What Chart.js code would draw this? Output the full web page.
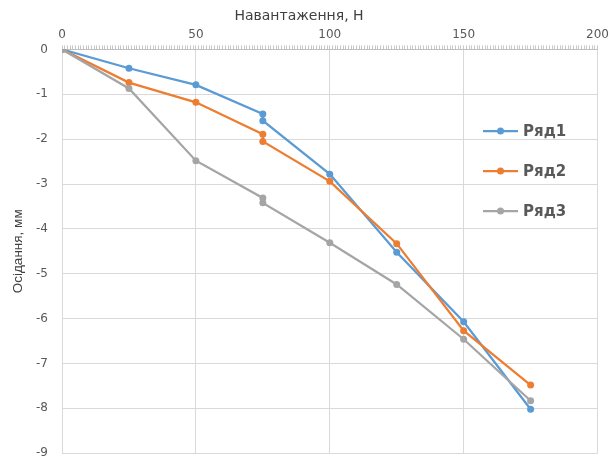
<!DOCTYPE html>
<html lang="uk">
<head>
    <meta charset="UTF-8">
    <title>Осідання</title>
    <style>
        html, body { margin: 0; padding: 0; background: #fff; }
        #wrap { width: 612px; height: 458px; }
    </style>
</head>
<body>
    <div id="wrap"><canvas id="chart" width="612" height="458"></canvas></div>

    <script src="https://cdn.jsdelivr.net/npm/chart.js"></script>
    <script>
        // дані з графіка
        const loads = [0, 25, 50, 75, 75, 100, 125, 150, 175];
        const ryad1 = [0, -0.42, -0.79, -1.44, -1.59, -2.78, -4.52, -6.07, -8.02];
        const ryad2 = [0, -0.74, -1.18, -1.89, -2.05, -2.94, -4.33, -6.27, -7.48];
        const ryad3 = [0, -0.87, -2.48, -3.31, -3.42, -4.31, -5.24, -6.46, -7.83];
        const seriesNames = ['Ряд1', 'Ряд2', 'Ряд3'];
        const xMajorTicks = [0, 50, 100, 150, 200];
        const yTicks = [0, -1, -2, -3, -4, -5, -6, -7, -8, -9];

        const colors = ['#5B9BD5', '#ED7D31', '#A5A5A5'];
        const allSeries = [ryad1, ryad2, ryad3];

        function toPoints(ys) {
            return loads.map((x, i) => ({ x: x, y: ys[i] }));
        }

        const datasets = allSeries.map((ys, i) => ({
            label: seriesNames[i],
            data: toPoints(ys),
            showLine: true,
            borderColor: colors[i],
            backgroundColor: colors[i],
            borderWidth: 2.25,
            pointRadius: 3.5,
            pointHoverRadius: 3.5,
            pointBorderWidth: 0,
            tension: 0,
            order: 3 - i
        }));

        // легенда як в Excel: праворуч, поверх області графіка
        const excelLegend = {
            id: 'excelLegend',
            afterDraw(chart) {
                const ctx = chart.ctx;
                ctx.save();
                chart.data.datasets.forEach((ds, i) => {
                    const y = 131 + i * 40;
                    ctx.strokeStyle = ds.borderColor;
                    ctx.lineWidth = 2.25;
                    ctx.beginPath();
                    ctx.moveTo(483, y);
                    ctx.lineTo(518, y);
                    ctx.stroke();
                    ctx.fillStyle = ds.borderColor;
                    ctx.beginPath();
                    ctx.arc(500.5, y, 3.5, 0, Math.PI * 2);
                    ctx.fill();
                    ctx.fillStyle = '#595959';
                    ctx.font = 'bold 15px "DejaVu Sans"';
                    ctx.textBaseline = 'middle';
                    ctx.textAlign = 'left';
                    ctx.fillText(ds.label, 523, y + 1);
                });
                ctx.restore();
            }
        };

        const ctx = document.getElementById('chart').getContext('2d');
        const chart = new Chart(ctx, {
            type: 'scatter',
            data: { datasets: datasets },
            options: {
                responsive: false,
                animation: false,
                layout: { padding: { left: 0, right: 14, top: 0, bottom: 3 } },
                plugins: {
                    legend: { display: false },
                    tooltip: { enabled: false },
                    title: {
                        display: true,
                        text: 'Навантаження, Н',
                        color: '#404040',
                        font: { family: '"DejaVu Sans"', size: 14, weight: 'normal', lineHeight: 1.1 },
                        padding: { top: 9, bottom: 2 }
                    }
                },
                scales: {
                    x: {
                        type: 'linear',
                        position: 'top',
                        min: xMajorTicks[0],
                        max: xMajorTicks[xMajorTicks.length - 1],
                        afterFit: (scale) => { scale.height = 23; },
                        ticks: {
                            stepSize: 1,
                            autoSkip: false,
                            maxRotation: 0,
                            minRotation: 0,
                            padding: 3,
                            color: '#595959',
                            font: { family: '"DejaVu Sans"', size: 12 },
                            callback: (v) => xMajorTicks.includes(v) ? String(v) : ''
                        },
                        grid: {
                            color: (c) => (c.tick && xMajorTicks.includes(c.tick.value)) ? '#d9d9d9' : 'rgba(0,0,0,0)',
                            tickColor: '#c8c8c8',
                            tickLength: 4,
                            lineWidth: 1
                        },
                        border: { color: '#bfbfbf', width: 1 }
                    },
                    y: {
                        type: 'linear',
                        min: yTicks[yTicks.length - 1],
                        max: yTicks[0],
                        afterFit: (scale) => { scale.width = 62; },
                        ticks: {
                            stepSize: 1,
                            padding: 0,
                            color: '#595959',
                            font: { family: '"DejaVu Sans"', size: 12, lineHeight: 0.8 }
                        },
                        grid: {
                            color: '#d9d9d9',
                            drawTicks: true,
                            tickLength: 14,
                            tickColor: 'rgba(0,0,0,0)',
                            lineWidth: 1
                        },
                        border: { color: '#d9d9d9', width: 1 },
                        title: {
                            display: true,
                            text: 'Осідання, мм',
                            color: '#404040',
                            font: { family: '"Liberation Sans"', size: 13.5 },
                            padding: { top: 10, bottom: 0 }
                        }
                    }
                }
            },
            plugins: [excelLegend]
        });
    </script>
</body>
</html>
